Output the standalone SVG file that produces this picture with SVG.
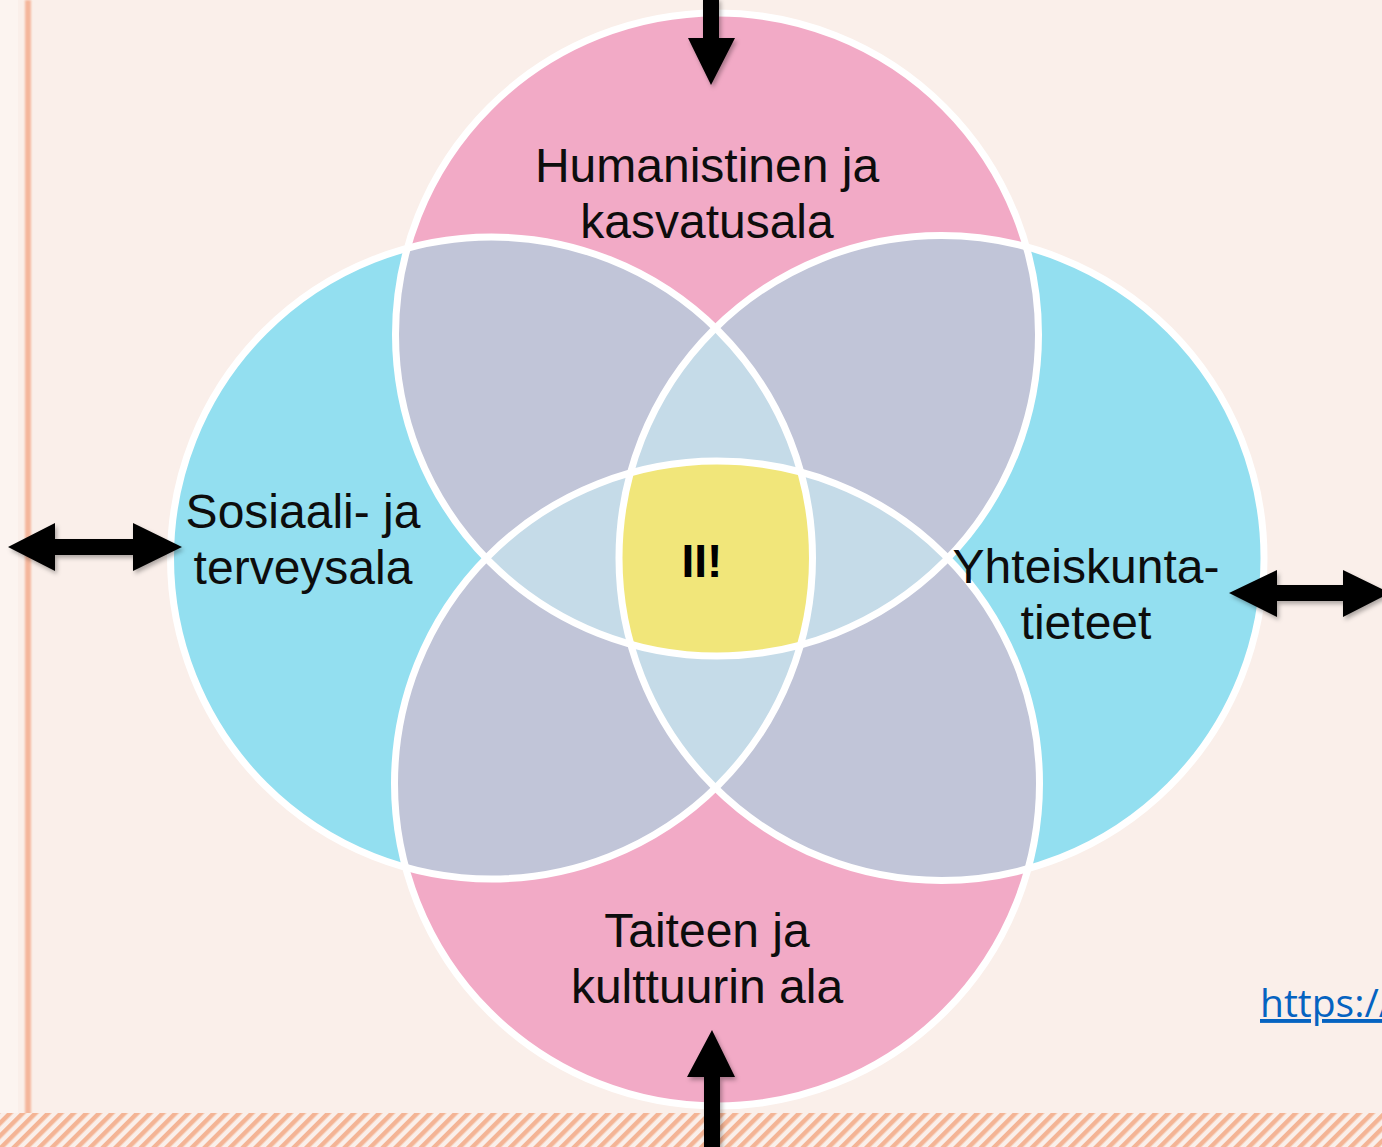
<svg xmlns="http://www.w3.org/2000/svg" width="1382" height="1147" viewBox="0 0 1382 1147">
<defs>
<style>
.lbl{font-family:"Liberation Sans",Arial,sans-serif;font-size:48px;fill:#0d0d0d;text-anchor:middle}
.ring{fill:none;stroke:#fff;stroke-width:7}
.pink{fill:#F2AAC6}
.cyan{fill:#93DFF0}
.gray{fill:#C1C5D8}
.light{fill:#C5DBE8}
.yellow{fill:#F1E67A}
.arrow{fill:#000;filter:url(#sh)}
</style>
<clipPath id="cT"><circle cx="717" cy="334.5" r="321.5"/></clipPath>
<clipPath id="cB"><circle cx="717" cy="783.5" r="322.5"/></clipPath>
<clipPath id="cL"><circle cx="491.5" cy="558" r="321"/></clipPath>
<clipPath id="cR"><circle cx="941.5" cy="558" r="322.5"/></clipPath>
<pattern id="hatch" width="9" height="9" patternUnits="userSpaceOnUse" patternTransform="rotate(45)">
<rect width="4.5" height="9" fill="#F3AE8C" opacity="0.9"/>
</pattern>
<filter id="sh" x="-30%" y="-30%" width="160%" height="160%">
<feDropShadow dx="2" dy="3" stdDeviation="2" flood-color="#000" flood-opacity="0.3"/>
</filter>
<filter id="soft" x="-50%" y="-5%" width="200%" height="110%">
<feGaussianBlur stdDeviation="1.2"/>
</filter>
</defs>

<g id="background">
<rect width="1382" height="1147" fill="#FAEFEA"/>
<rect x="0" y="0" width="18" height="1147" fill="#FCF4F0"/>
<rect x="25" y="0" width="6" height="1147" fill="#F4AD8F" opacity="0.85" filter="url(#soft)"/>
<rect x="0" y="1113" width="1382" height="34" fill="#FAEFEA"/>
<rect x="0" y="1113" width="1382" height="34" fill="url(#hatch)"/>
</g>

<g id="fills">
<circle class="cyan" cx="491.5" cy="558" r="321"/>
<circle class="cyan" cx="941.5" cy="558" r="322.5"/>
<circle class="pink" cx="717" cy="334.5" r="321.5"/>
<circle class="pink" cx="717" cy="783.5" r="322.5"/>
<circle class="gray" cx="491.5" cy="558" r="321" clip-path="url(#cT)"/>
<circle class="gray" cx="941.5" cy="558" r="322.5" clip-path="url(#cT)"/>
<circle class="gray" cx="491.5" cy="558" r="321" clip-path="url(#cB)"/>
<circle class="gray" cx="941.5" cy="558" r="322.5" clip-path="url(#cB)"/>
<circle class="light" cx="491.5" cy="558" r="321" clip-path="url(#cR)"/>
<circle class="light" cx="717" cy="334.5" r="321.5" clip-path="url(#cB)"/>
<g clip-path="url(#cT)"><g clip-path="url(#cB)">
<circle class="yellow" cx="491.5" cy="558" r="321" clip-path="url(#cR)"/>
</g></g>
</g>

<g id="node-top">
<circle class="ring" cx="717" cy="334.5" r="321.5"/>
</g>
<g id="node-bottom">
<circle class="ring" cx="717" cy="783.5" r="322.5"/>
</g>
<g id="node-left">
<circle class="ring" cx="491.5" cy="558" r="321"/>
</g>
<g id="node-right">
<circle class="ring" cx="941.5" cy="558" r="322.5"/>
</g>

<g id="labels">
<text class="lbl" x="707" y="182">Humanistinen ja</text>
<text class="lbl" x="707" y="238">kasvatusala</text>
<text class="lbl" x="303" y="528">Sosiaali- ja</text>
<text class="lbl" x="303" y="584">terveysala</text>
<text class="lbl" x="1086" y="583">Yhteiskunta-</text>
<text class="lbl" x="1086" y="639">tieteet</text>
<text class="lbl" x="707" y="947">Taiteen ja</text>
<text class="lbl" x="707" y="1003">kulttuurin ala</text>
</g>

<g id="node-center">
<text x="702" y="577" font-family="'Liberation Sans',Arial,sans-serif" font-size="46" font-weight="bold" fill="#000" text-anchor="middle">II!</text>
</g>

<g id="connectors">
<path class="arrow" d="M703,-2 H719 V38 H735 L711,85 L688,38 H703 Z"/>
<path class="arrow" d="M704,1149 V1077 H687 L712,1030 L735,1077 H720 V1149 Z"/>
<path class="arrow" d="M8,547 L55,523 V539 H133 V523 L182,547 L133,571 V555 H55 V571 Z"/>
<path class="arrow" d="M1229,593 L1277,570 V585 H1343 V570 L1390,593 L1343,617 V601 H1277 V617 Z"/>
</g>

<g id="link">
<text x="1260" y="1017" font-family="'Open Sans','Liberation Sans',sans-serif" font-size="39" fill="#0563C1" text-decoration="underline">https://</text>
</g>
</svg>
